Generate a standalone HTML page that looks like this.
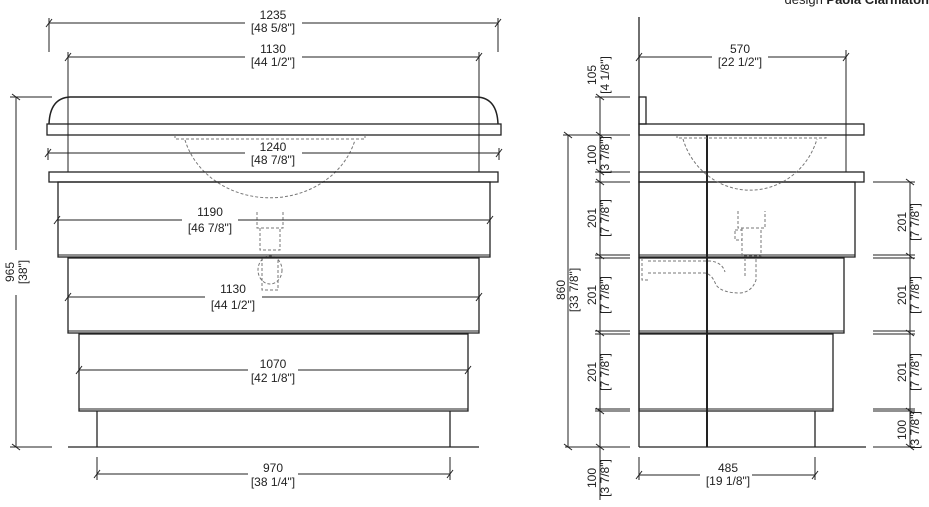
<!DOCTYPE html>
<html><head><meta charset="utf-8"><style>
html,body{margin:0;padding:0;background:#fff;}
svg{display:block}
text{font-family:"Liberation Sans",sans-serif;font-size:12px;fill:#222;text-anchor:middle}
</style></head><body>
<svg width="929" height="507" viewBox="0 0 929 507" xmlns="http://www.w3.org/2000/svg">
<g stroke="#222" fill="none" stroke-width="1">
<line x1="49" y1="18" x2="49" y2="52"/><line x1="498" y1="18" x2="498" y2="52"/>
<line x1="49" y1="23" x2="245" y2="23"/><line x1="302" y1="23" x2="498" y2="23"/>
<line x1="46" y1="27" x2="52" y2="19"/><line x1="495" y1="27" x2="501" y2="19"/>
<line x1="68" y1="52" x2="68" y2="172"/><line x1="479" y1="52" x2="479" y2="172"/>
<line x1="68" y1="57" x2="245" y2="57"/><line x1="302" y1="57" x2="479" y2="57"/>
<line x1="65" y1="61" x2="71" y2="53"/><line x1="476" y1="61" x2="482" y2="53"/>
<path d="M49 124 Q50 98 70 97 L477 97 Q497 98 498 124" stroke-width="1.5"/>
<rect x="47" y="124" width="454" height="11" stroke-width="1.3"/>
<g stroke="#777" stroke-dasharray="3,2">
<path d="M175 135 L175 139 L365 139 L365 135"/>
<path d="M185 140 A88 78 0 0 0 355 140"/>
<path d="M257 212 L257 228 L283 228 L283 212"/>
<path d="M260 228 L260 250 L280 250 L280 228"/>
<path d="M262 258 L262 290 L278 290 L278 258"/>
<ellipse cx="270" cy="270" rx="12" ry="14"/>
</g>
<line x1="48" y1="148" x2="48" y2="160"/><line x1="499" y1="148" x2="499" y2="160"/>
<line x1="48" y1="153" x2="245" y2="153"/><line x1="302" y1="153" x2="499" y2="153"/>
<line x1="45" y1="157" x2="51" y2="149"/><line x1="496" y1="157" x2="502" y2="149"/>
<rect x="49" y="172" width="449" height="10" stroke-width="1.3"/>
<rect x="58" y="182" width="432" height="75" stroke-width="1.3"/>
<line x1="58" y1="255" x2="490" y2="255"/>
<rect x="68" y="258" width="411" height="75" stroke-width="1.3"/>
<line x1="68" y1="331" x2="479" y2="331"/>
<rect x="79" y="334" width="389" height="77" stroke-width="1.3"/>
<line x1="79" y1="409" x2="468" y2="409"/>
<line x1="97" y1="411" x2="97" y2="447" stroke-width="1.3"/><line x1="450" y1="411" x2="450" y2="447" stroke-width="1.3"/>
<line x1="68" y1="447" x2="479" y2="447" stroke-width="1.3"/>
<line x1="57" y1="220" x2="182" y2="220"/><line x1="238" y1="220" x2="490" y2="220"/>
<line x1="54" y1="224" x2="60" y2="216"/><line x1="487" y1="224" x2="493" y2="216"/>
<line x1="68" y1="297" x2="205" y2="297"/><line x1="262" y1="297" x2="479" y2="297"/>
<line x1="65" y1="301" x2="71" y2="293"/><line x1="476" y1="301" x2="482" y2="293"/>
<line x1="79" y1="370" x2="248" y2="370"/><line x1="298" y1="370" x2="468" y2="370"/>
<line x1="76" y1="374" x2="82" y2="366"/><line x1="465" y1="374" x2="471" y2="366"/>
<line x1="97" y1="457" x2="97" y2="480"/><line x1="450" y1="457" x2="450" y2="480"/>
<line x1="97" y1="474" x2="248" y2="474"/><line x1="298" y1="474" x2="450" y2="474"/>
<line x1="94" y1="478" x2="100" y2="470"/><line x1="447" y1="478" x2="453" y2="470"/>
<line x1="10" y1="97" x2="52" y2="97"/><line x1="10" y1="447" x2="52" y2="447"/>
<line x1="16" y1="97" x2="16" y2="250"/><line x1="16" y1="295" x2="16" y2="447"/>
<line x1="12" y1="94" x2="20" y2="100"/><line x1="12" y1="444" x2="20" y2="450"/>

<line x1="639" y1="17" x2="639" y2="447" stroke-width="1.3"/>
<line x1="846" y1="50" x2="846" y2="172"/>
<line x1="639" y1="57" x2="712" y2="57"/><line x1="768" y1="57" x2="846" y2="57"/>
<line x1="636" y1="61" x2="642" y2="53"/><line x1="843" y1="61" x2="849" y2="53"/>
<rect x="639" y="97" width="7" height="27" stroke-width="1.3"/>
<rect x="639" y="124" width="225" height="11" stroke-width="1.3"/>
<rect x="639" y="172" width="225" height="10" stroke-width="1.3"/>
<rect x="639" y="182" width="216" height="75" stroke-width="1.3"/>
<line x1="639" y1="255" x2="855" y2="255"/>
<rect x="639" y="258" width="205" height="75" stroke-width="1.3"/>
<line x1="639" y1="331" x2="844" y2="331"/>
<rect x="639" y="334" width="194" height="77" stroke-width="1.3"/>
<line x1="639" y1="409" x2="833" y2="409"/>
<line x1="815" y1="411" x2="815" y2="447" stroke-width="1.3"/>
<line x1="639" y1="447" x2="866" y2="447" stroke-width="1.3"/>
<line x1="707" y1="135" x2="707" y2="447" stroke-width="2"/>
<g stroke="#777" stroke-dasharray="3,2">
<path d="M677 135 L677 138 L826 138 L826 135"/>
<path d="M683 139 A70 72 0 0 0 817 139"/>
<path d="M738 211 L738 228 L765 228 L765 211"/>
<path d="M742 228 L742 256 L761 256 L761 228"/>
<rect x="735" y="230" width="7" height="10"/>
<path d="M642 258 L642 280 L650 280"/>
<path d="M648 261 L710 261 Q722 262 725 272"/>
<path d="M648 273 L705 273 Q712 274 716 285 Q722 293 740 293 Q752 292 756 280 L756 258"/>
<path d="M745 258 L745 278"/>
</g>
<g>
<line x1="595" y1="97" x2="630" y2="97"/><line x1="595" y1="135" x2="630" y2="135"/>
<line x1="595" y1="172" x2="630" y2="172"/><line x1="595" y1="182" x2="630" y2="182"/>
<line x1="595" y1="255" x2="630" y2="255"/><line x1="595" y1="258" x2="630" y2="258"/>
<line x1="595" y1="331" x2="630" y2="331"/><line x1="595" y1="334" x2="630" y2="334"/>
<line x1="595" y1="409" x2="630" y2="409"/><line x1="595" y1="411" x2="630" y2="411"/>
<line x1="565" y1="447" x2="630" y2="447"/>
<line x1="600" y1="97" x2="600" y2="500"/>
<line x1="563" y1="135" x2="630" y2="135"/>
<line x1="568" y1="135" x2="568" y2="447"/>
<line x1="564" y1="132" x2="572" y2="138"/><line x1="564" y1="444" x2="572" y2="450"/>
<line x1="596" y1="94" x2="604" y2="100"/><line x1="596" y1="132" x2="604" y2="138"/>
<line x1="596" y1="169" x2="604" y2="175"/><line x1="596" y1="179" x2="604" y2="185"/>
<line x1="596" y1="253" x2="604" y2="259"/><line x1="596" y1="330" x2="604" y2="336"/>
<line x1="596" y1="408" x2="604" y2="414"/><line x1="596" y1="444" x2="604" y2="450"/>
</g>
<g>
<line x1="873" y1="182" x2="915" y2="182"/>
<line x1="873" y1="255" x2="915" y2="255"/><line x1="873" y1="258" x2="915" y2="258"/>
<line x1="873" y1="331" x2="915" y2="331"/><line x1="873" y1="334" x2="915" y2="334"/>
<line x1="873" y1="409" x2="915" y2="409"/><line x1="873" y1="411" x2="915" y2="411"/>
<line x1="873" y1="447" x2="915" y2="447"/>
<line x1="910" y1="182" x2="910" y2="447"/>
<line x1="906" y1="179" x2="914" y2="185"/><line x1="906" y1="253" x2="914" y2="259"/>
<line x1="906" y1="330" x2="914" y2="336"/><line x1="906" y1="408" x2="914" y2="414"/>
<line x1="906" y1="444" x2="914" y2="450"/>
</g>
<line x1="639" y1="457" x2="639" y2="480"/><line x1="815" y1="457" x2="815" y2="480"/>
<line x1="639" y1="475" x2="700" y2="475"/><line x1="752" y1="475" x2="815" y2="475"/>
<line x1="636" y1="479" x2="642" y2="471"/><line x1="812" y1="479" x2="818" y2="471"/>
</g>
<g>
<text x="273" y="19">1235</text><text x="273" y="32">[48 5/8"]</text>
<text x="273" y="53">1130</text><text x="273" y="66">[44 1/2"]</text>
<text x="273" y="151">1240</text><text x="273" y="164">[48 7/8"]</text>
<text x="210" y="216">1190</text><text x="210" y="232">[46 7/8"]</text>
<text x="233" y="293">1130</text><text x="233" y="309">[44 1/2"]</text>
<text x="273" y="368">1070</text><text x="273" y="382">[42 1/8"]</text>
<text x="273" y="472">970</text><text x="273" y="486">[38 1/4"]</text>
<text transform="translate(14,272) rotate(-90)">965</text>
<text transform="translate(27,272) rotate(-90)">[38"]</text>
<text x="740" y="53">570</text><text x="740" y="66">[22 1/2"]</text>
<text x="728" y="472">485</text><text x="728" y="485">[19 1/8"]</text>
<text transform="translate(596,75) rotate(-90)">105</text><text transform="translate(609,75) rotate(-90)">[4 1/8"]</text>
<text transform="translate(596,155) rotate(-90)">100</text><text transform="translate(609,155) rotate(-90)">[3 7/8"]</text>
<text transform="translate(596,218) rotate(-90)">201</text><text transform="translate(609,218) rotate(-90)">[7 7/8"]</text>
<text transform="translate(596,295) rotate(-90)">201</text><text transform="translate(609,295) rotate(-90)">[7 7/8"]</text>
<text transform="translate(596,372) rotate(-90)">201</text><text transform="translate(609,372) rotate(-90)">[7 7/8"]</text>
<text transform="translate(596,478) rotate(-90)">100</text><text transform="translate(609,478) rotate(-90)">[3 7/8"]</text>
<text transform="translate(565,290) rotate(-90)">860</text><text transform="translate(578,290) rotate(-90)">[33 7/8"]</text>
<text transform="translate(906,222) rotate(-90)">201</text><text transform="translate(919,222) rotate(-90)">[7 7/8"]</text>
<text transform="translate(906,295) rotate(-90)">201</text><text transform="translate(919,295) rotate(-90)">[7 7/8"]</text>
<text transform="translate(906,372) rotate(-90)">201</text><text transform="translate(919,372) rotate(-90)">[7 7/8"]</text>
<text transform="translate(906,430) rotate(-90)">100</text><text transform="translate(919,430) rotate(-90)">[3 7/8"]</text>
<text x="929" y="4" style="text-anchor:end;font-size:13px">design <tspan font-weight="bold">Paola Clarmaton</tspan></text>
</g>
</svg>
</body></html>
